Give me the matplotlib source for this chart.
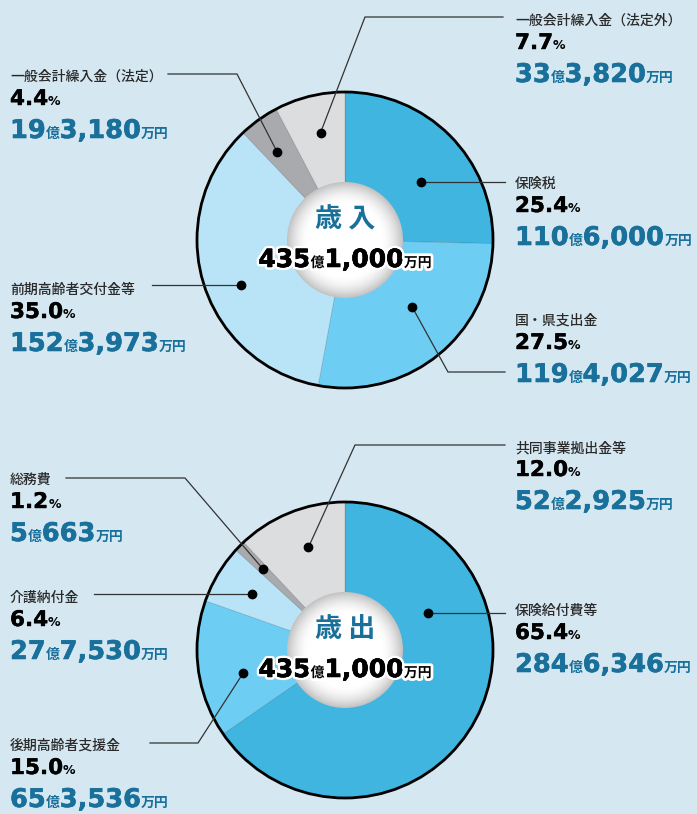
import matplotlib
matplotlib.use('Agg')
import matplotlib.pyplot as plt
import matplotlib.patheffects as pe
from matplotlib.patches import Circle
import numpy as np

# --- data -------------------------------------------------------------
rev_title = '歳 入'
rev_labels = ['保険税', '国・県支出金', '前期高齢者交付金等', '一般会計繰入金（法定）', '一般会計繰入金（法定外）']
rev_pct = [25.4, 27.5, 35.0, 4.4, 7.7]
rev_oku = [110, 119, 152, 19, 33]
rev_man = [6000, 4027, 3973, 3180, 3820]

exp_title = '歳 出'
exp_labels = ['保険給付費等', '後期高齢者支援金', '介護納付金', '総務費', '共同事業拠出金等']
exp_pct = [65.4, 15.0, 6.4, 1.2, 12.0]
exp_oku = [284, 65, 27, 5, 52]
exp_man = [6346, 3536, 7530, 663, 2925]

total_oku, total_man = 435, 1000

# --- style ------------------------------------------------------------
W, H = 697, 814
BG = '#d5e7f1'
SLICE_COLORS = ['#40b5e0', '#6dcdf3', '#b9e4f7', '#a9aaae', '#dcdddf']
BLUE_TXT = '#18709b'
LABEL_TXT = '#2a2a2a'
CJK = ['Noto Sans CJK JP', 'DejaVu Sans']
NUM = ['DejaVu Sans']
R_PIE = 148
R_HOLE = 58

# side, label centre y, elbow point (or None), line end x, dot angle shift, dot radius
rev_layout = [
    ('R', 182, None, 505, 7, 95),
    ('R', 319, (448, 372), 505, -6, 95),
    ('L', 288, None, 152, -7, 113),
    ('L', 75, (237, 74), 168, -2, 111),
    ('R', 19, (365, 17), 503, 1, 110),
]
exp_layout = [
    ('R', 609, None, 505, -52, 91),
    ('L', 744, (198, 743), 150, -5, 104),
    ('L', 596, None, 94, 0, 108),
    ('L', 478, (185, 478), 66, 0, 115),
    ('R', 446, (355, 445), 505, 2, 109),
]

fig = plt.figure(figsize=(W / 100, H / 100), dpi=100)
fig.patch.set_facecolor(BG)
ax = fig.add_axes([0, 0, 1, 1])
renderer = fig.canvas.get_renderer()


def text_run(x, y, pieces, align='left', halo=False):
    """draw several text pieces side by side on one baseline
    pieces: (text, size, colour, family, stroke width or 0)"""
    arts = []
    for s, size, color, fam, sw in pieces:
        t = ax.text(0, y, s, fontsize=size, color=color, fontweight='bold',
                    family=fam, va='baseline', ha='left', zorder=10)
        fx = []
        if halo:
            fx.append(pe.withStroke(linewidth=4, foreground='white'))
        if sw:
            fx.append(pe.withStroke(linewidth=sw, foreground=color))
        if fx:
            t.set_path_effects(fx)
        arts.append(t)
    widths = [a.get_window_extent(renderer).width for a in arts]
    total = sum(widths)
    if align == 'center':
        x = x - total / 2
    for a, w in zip(arts, widths):
        a.set_x(x)
        x += w


def draw_pie(cx, cy, title, labels, pct, oku, man, layout):
    # y axis is flipped, so counterclockwise in data = clockwise on screen
    ax.pie(pct, colors=SLICE_COLORS, startangle=-90, counterclock=True,
           center=(cx, cy), radius=R_PIE,
           wedgeprops=dict(linewidth=0.6, edgecolor=(0, 0, 0, 0.12)))
    ax.add_patch(Circle((cx, cy), R_PIE, fill=False, edgecolor='black', linewidth=2.0, zorder=4))

    # white centre disc with soft grey rim
    n = 200
    g = np.linspace(-1, 1, n)
    xx, yy = np.meshgrid(g, g)
    rr = np.sqrt(xx ** 2 + yy ** 2)
    shade = 1 - 0.24 * np.clip((rr - 0.62) / 0.38, 0, 1) ** 1.8
    img = ax.imshow(shade, cmap='gray', vmin=0, vmax=1,
                    extent=[cx - R_HOLE, cx + R_HOLE, cy + R_HOLE, cy - R_HOLE], zorder=5)
    img.set_clip_path(Circle((cx, cy), R_HOLE, transform=ax.transData))

    ax.text(cx, cy - 21, title, fontsize=19.5, color=BLUE_TXT, fontweight='bold',
            family=CJK, ha='center', va='center', zorder=10)
    text_run(cx, cy + 27, [
        (str(total_oku), 18, 'black', NUM, 0.4),
        ('億', 10, 'black', CJK, 0),
        (f'{total_man:,}', 18, 'black', NUM, 0.4),
        ('万円', 10, 'black', CJK, 0),
    ], align='center', halo=True)

    cum = np.cumsum([0] + list(pct))
    for i, lab in enumerate(labels):
        side, lcy, elbow, end_x, shift, rdot = layout[i]
        mid = 360 * (cum[i] + pct[i] / 2) / 100 + shift
        th = np.radians(mid)
        dx, dy = cx + rdot * np.sin(th), cy - rdot * np.cos(th)
        if elbow is None:
            xs, ys = [dx, end_x], [dy, dy]
        else:
            xs, ys = [dx, elbow[0], end_x], [dy, elbow[1], elbow[1]]
        ax.plot(xs, ys, color='#333333', linewidth=0.9, zorder=6, solid_joinstyle='miter')
        ax.plot(dx, dy, 'o', color='black', markersize=6, zorder=7)

        tx = 515 if side == 'R' else 10
        ax.text(tx, lcy + 6, lab, fontsize=10, color=LABEL_TXT, family=CJK,
                fontweight='medium', va='baseline', ha='left', zorder=10)
        text_run(tx, lcy + 30, [
            (f'{pct[i]:.1f}', 15.5, 'black', NUM, 0.3),
            ('%', 9, 'black', NUM, 0),
        ])
        text_run(tx, lcy + 63, [
            (str(oku[i]), 18.5, BLUE_TXT, NUM, 0.4),
            ('億', 10, BLUE_TXT, CJK, 0),
            (f'{man[i]:,}', 18.5, BLUE_TXT, NUM, 0.4),
            ('万円', 10, BLUE_TXT, CJK, 0),
        ])


draw_pie(345, 240, rev_title, rev_labels, rev_pct, rev_oku, rev_man, rev_layout)
draw_pie(345, 650, exp_title, exp_labels, exp_pct, exp_oku, exp_man, exp_layout)

ax.set_xlim(0, W)
ax.set_ylim(H, 0)
ax.set_axis_off()

fig.savefig('out.png', dpi=100, facecolor=fig.get_facecolor())
